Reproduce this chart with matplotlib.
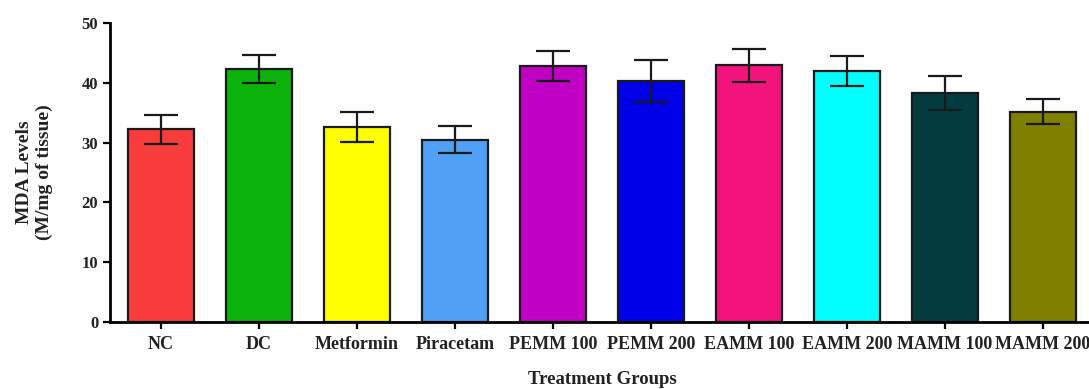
import numpy as np
import matplotlib
matplotlib.use('Agg')
from matplotlib import pyplot as plt

### DATA
groups = ['NC', 'DC', 'Metformin', 'Piracetam', 'PEMM 100', 'PEMM 200',
          'EAMM 100', 'EAMM 200', 'MAMM 100', 'MAMM 200']
mda_mean = [32.2, 42.3, 32.6, 30.5, 42.8, 40.3, 42.9, 42.0, 38.3, 35.2]
mda_sem = [2.4, 2.3, 2.5, 2.2, 2.5, 3.5, 2.7, 2.5, 2.9, 2.1]
bar_colors = ['#F83B3B', '#0BB30B', '#FFFF00', '#50A0F5', '#C000C4',
              '#0000E8', '#F2137C', '#00FFFF', '#033C3E', '#808000']

### PLOT
plt.rcParams['font.family'] = 'Liberation Serif'
plt.rcParams['font.weight'] = 'bold'

fig = plt.figure(figsize=(10.89, 3.89), dpi=100)
# axes runs a little past the right edge of the figure, so the last group is clipped
ax = fig.add_axes([110 / 1089, 67 / 389, 984 / 1089, 299 / 389])

x = np.arange(len(groups))
ax.bar(x, mda_mean, width=0.67, color=bar_colors, edgecolor='#1a1a1a', linewidth=1.6, zorder=2)
ax.errorbar(x, mda_mean, yerr=mda_sem, fmt='none', ecolor='#1a1a1a', elinewidth=1.6,
            capsize=12, capthick=1.6, zorder=3)

ax.set_xlim(-0.52, len(groups) - 0.48)
ax.set_ylim(0, 50)
ax.set_yticks([0, 10, 20, 30, 40, 50])
ax.set_xticks(x)
ax.set_xticklabels(groups, fontsize=13, fontweight='bold', color='#222222')
ax.tick_params(axis='y', labelsize=12, width=1.6, length=5, direction='out', labelcolor='#222222')
ax.tick_params(axis='x', width=1.6, length=5, direction='out', pad=5)
for lab in ax.get_yticklabels():
    lab.set_fontweight('bold')

for side in ['top', 'right']:
    ax.spines[side].set_visible(False)
for side in ['left', 'bottom']:
    ax.spines[side].set_linewidth(2)

ax.set_ylabel('MDA Levels\n(M/mg of tissue)', fontsize=14, fontweight='bold', color='#222222')
ax.yaxis.set_label_coords(-0.058, 0.5)
ax.set_xlabel('Treatment Groups', fontsize=13.5, fontweight='bold', color='#222222')
ax.xaxis.set_label_coords(0.5, -0.163)

plt.savefig('out.png', dpi=100)
